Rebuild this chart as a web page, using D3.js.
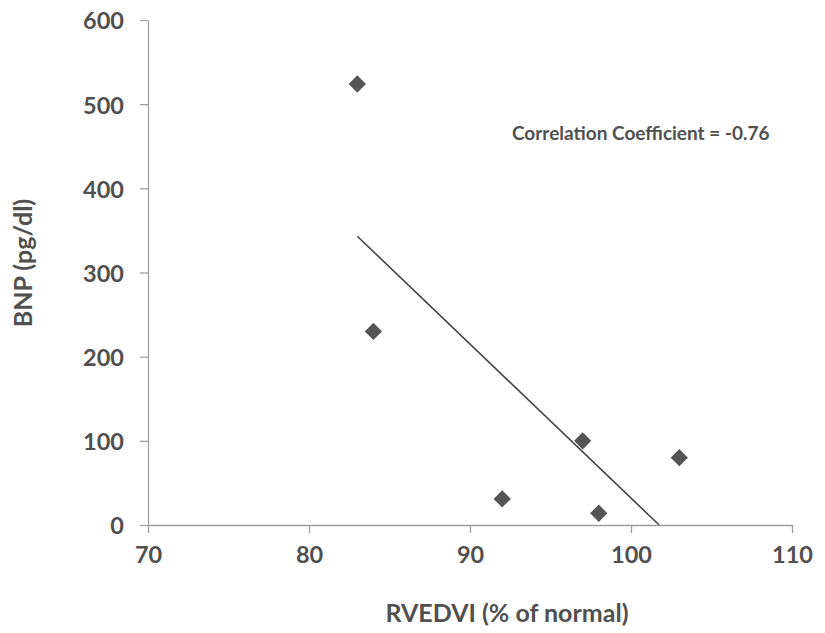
<!DOCTYPE html>
<html><head><meta charset="utf-8">
<script src="https://cdn.jsdelivr.net/npm/d3@7"></script>
<style>body{margin:0;background:#fff}text{font-family:Lato,"Open Sans",sans-serif;font-weight:bold;fill:#505050}</style>
</head><body>
<svg id="c" width="825" height="633"></svg>
<script>
const rvedvi = [83, 84, 92, 97, 98, 103];
const bnp = [524, 230, 31, 100, 14, 80];
const xTicks = [70, 80, 90, 100, 110];
const yTicks = [0, 100, 200, 300, 400, 500, 600];
const xLabel = "RVEDVI (% of normal)";
const yLabel = "BNP (pg/dl)";
const note = "Correlation Coefficient = -0.76";

const svg = d3.select("#c");
const x = d3.scaleLinear().domain([70, 110]).range([148, 792]);
const y = d3.scaleLinear().domain([0, 600]).range([525, 20]);

// axes
const xa = svg.append("g").attr("transform", `translate(0,${y(0)})`)
  .call(d3.axisBottom(x).tickValues(xTicks).tickSize(8).tickSizeOuter(0).tickFormat(d3.format("d")));
const ya = svg.append("g").attr("transform", `translate(${x(70)},0)`)
  .call(d3.axisLeft(y).tickValues(yTicks).tickSize(8).tickSizeOuter(0).tickFormat(d3.format("d")));
[xa, ya].forEach(a => {
  a.selectAll("path,line").attr("stroke", "#a0a0a0").attr("stroke-width", 1.3);
  a.selectAll("text").style("font-size", "23.5px").attr("fill", "#505050");
});
xa.selectAll("text").attr("dy", null).attr("y", 38);
ya.selectAll("text").attr("x", -24).attr("dy", "0.38em");

// regression line
const mx = d3.mean(rvedvi), my = d3.mean(bnp);
const sxy = d3.sum(rvedvi, (v, i) => (v - mx) * (bnp[i] - my));
const sxx = d3.sum(rvedvi, v => (v - mx) ** 2);
const slope = sxy / sxx, icpt = my - slope * mx;
const x0 = d3.min(rvedvi), x1 = -icpt / slope;
svg.append("line")
  .attr("x1", x(x0)).attr("y1", y(slope * x0 + icpt))
  .attr("x2", x(x1)).attr("y2", y(0))
  .attr("stroke", "#444").attr("stroke-width", 1.6);

// points
svg.selectAll("path.pt").data(rvedvi).enter().append("path")
  .attr("class", "pt")
  .attr("d", d3.symbol().type(d3.symbolSquare).size(150))
  .attr("transform", (d, i) => `translate(${x(d)},${y(bnp[i])}) rotate(45)`)
  .attr("fill", "#555");

// labels
svg.append("text").attr("x", 507).attr("y", 622).attr("text-anchor", "middle")
  .style("font-size", "25px").text(xLabel);
svg.append("text").attr("transform", `translate(32,263) rotate(-90)`).attr("text-anchor", "middle")
  .style("font-size", "25px").text(yLabel);
svg.append("text").attr("x", 512).attr("y", 140).style("font-size", "19px").text(note);
</script>
</body></html>
